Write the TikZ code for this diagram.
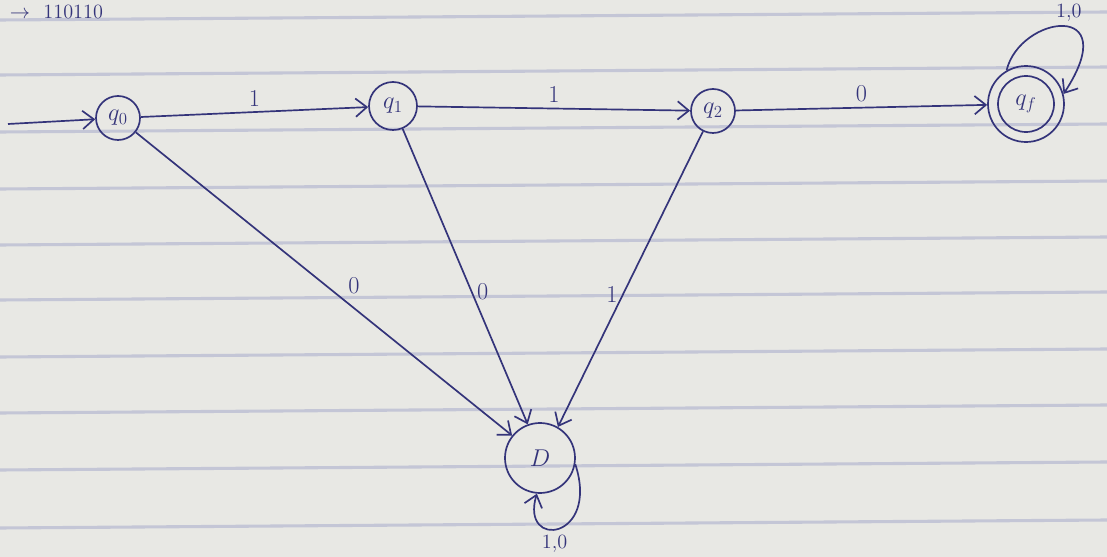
\documentclass[tikz,border=0pt]{standalone}
\usetikzlibrary{arrows.meta}
\definecolor{inkc}{HTML}{34347A}
\definecolor{lineblue}{HTML}{C4C6D6}
\definecolor{paperc}{HTML}{E8E8E4}
\begin{document}
\begin{tikzpicture}[x=0.025cm,y=-0.025cm,
  ink/.style={draw=inkc, line width=1.2pt},
  state/.style={ink, circle, minimum size=44*0.025cm, inner sep=0pt, font=\LARGE, text=inkc},
  edge/.style={ink, -{Straight Barb[length=8pt,width=13pt]}},
  lbl/.style={font=\LARGE, text=inkc},
  paper/.style={draw=lineblue, line width=2.2pt}]
\fill[paperc] (0,0) rectangle (1107,557);
\useasboundingbox (0,0) rectangle (1107,557);
% ruled paper lines
\foreach \y in {20,75,132,189,245,300,357,413,470,528}
  \draw[paper] (0,\y) -- (1107,\y-8);
% header text
\node[lbl, anchor=west, font=\Large] (hdr) at (5,12) {$\rightarrow$\ \ 110110};
% states
\node[state] (q0) at (118,118) {$q_0$};
\node[state, minimum size=48*0.025cm] (q1) at (393,106) {$q_1$};
\node[state] (q2) at (713,111) {$q_2$};
\node[state, minimum size=76*0.025cm] (qfo) at (1026,104) {};
\node[state, minimum size=56*0.025cm] (qf) at (1026,104) {$q_f$};
\node[state, minimum size=70*0.025cm] (D) at (540,458) {$D$};
% start
\coordinate (s) at (8,124);
\draw[edge] (s) -- (q0);
% transitions
\draw[edge] (q0) -- node[lbl, above] {1} (q1);
\draw[edge] (q1) -- node[lbl, above] {1} (q2);
\draw[edge] (q2) -- node[lbl, above] {0} (qfo);
\draw[edge] (q0) -- node[lbl, above right, pos=0.55] {0} (D);
\draw[edge] (q1) -- node[lbl, right, pos=0.55] {0} (D.110);
\draw[edge] (q2) -- node[lbl, left, pos=0.55] {1} (D.60);
% self loops
\draw[edge] (qfo.120) .. controls (1020,15) and (1125,0) .. (qfo.15)
  node[lbl, pos=0.55, above, font=\Large] {1,0};
\draw[edge] (D.-10) .. controls (600,540) and (520,550) .. (D.-95)
  node[lbl, pos=0.55, below, font=\Large] {1,0};
\end{tikzpicture}
\end{document}
